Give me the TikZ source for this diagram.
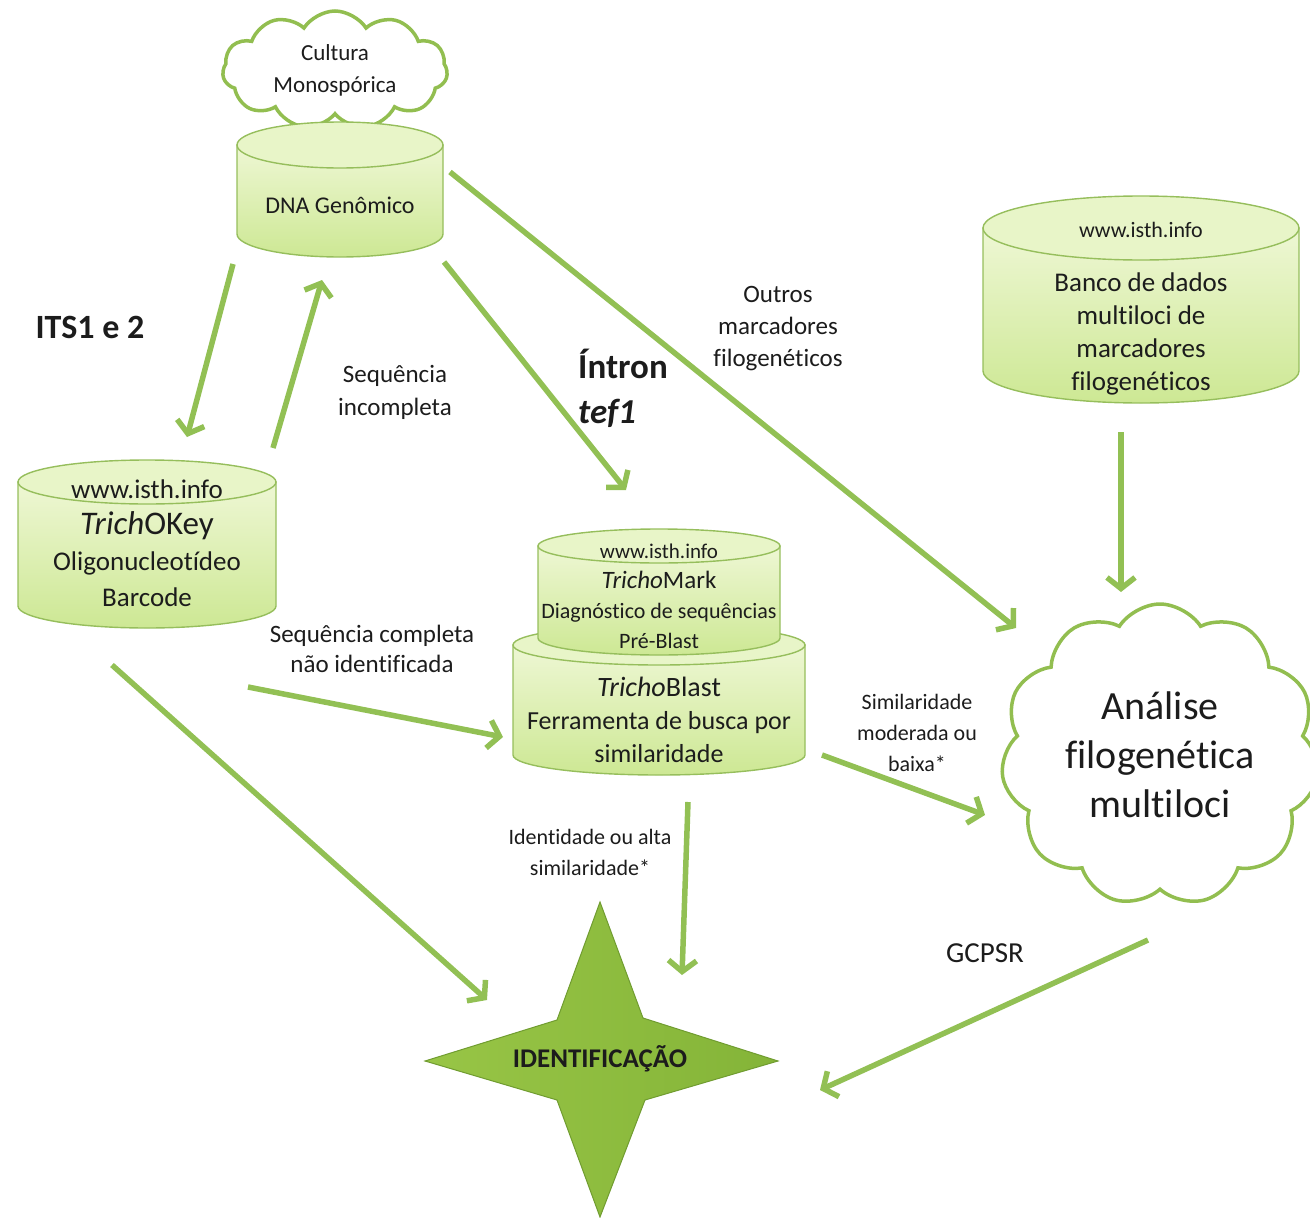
\documentclass[tikz,border=0pt]{standalone}
\usepackage{fontspec}
\setmainfont{Carlito}[Ligatures={NoCommon}]
\usetikzlibrary{arrows.meta,shapes.symbols}

\definecolor{edgegreen}{RGB}{150,190,92}
\definecolor{drumtop}{RGB}{238,247,212}
\definecolor{drumlow}{RGB}{205,232,148}
\definecolor{lidfill}{RGB}{232,245,200}
\definecolor{flowgreen}{RGB}{146,192,84}
\definecolor{cloudedge}{RGB}{146,190,80}
\definecolor{starlight}{RGB}{152,197,70}
\definecolor{stardark}{RGB}{132,180,56}
\definecolor{staredge}{RGB}{112,156,48}
\definecolor{inkgray}{RGB}{28,28,28}

\newcommand{\fs}[2]{\fontsize{#1}{#2}\selectfont}

% drum: #1 cx, #2 lid centre y, #3 rx, #4 ry, #5 floor centre y
\newcommand{\drum}[5]{%
\path[drumbody] (#1-#3,#2) -- (#1-#3,#5) arc[start angle=180,end angle=0,x radius=#3,y radius=#4] -- (#1+#3,#2) -- cycle;
\path[drumlid] (#1,#2) ellipse[x radius=#3,y radius=#4];
}

\tikzset{
  drumbody/.style={draw=edgegreen, line width=1.4pt, top color=drumtop, bottom color=drumlow},
  drumlid/.style={draw=edgegreen, line width=1.4pt, fill=lidfill},
  cloudy/.style={cloud, cloud puffs=11, cloud puff arc=115, cloud ignores aspect, draw=cloudedge, line width=3.5pt, fill=white, inner sep=0pt, align=center, text=inkgray},
  txt/.style={align=center, text=inkgray, inner sep=0pt},
  lbl/.style={align=center, text=inkgray, inner sep=0pt},
  flow/.style={line width=5.5pt, draw=flowgreen, -{Straight Barb[length=11pt, width=28pt]}},
  starbody/.style={left color=starlight, right color=stardark, draw=staredge, line width=1pt}
}

\begin{document}
\begin{tikzpicture}[x=1pt, y=-1pt]
\useasboundingbox (0,0) rectangle (1310,1218);

% clouds
\node[cloudy, minimum width=225pt, minimum height=118pt, font=\fs{23}{32}] (culture) at (335,70) {Cultura\\Monospórica};
\node[cloudy, minimum width=318pt, minimum height=302pt, font=\fs{40}{49}] (analise) at (1160,755) {Análise\\filogenética\\multiloci};

% cylinders
\drum{340}{145}{103}{23}{234}
\drum{147}{482}{129}{22}{606}
\drum{659}{645}{146}{20}{755}
\drum{659}{546}{121}{17}{638}
\drum{1141}{228}{158}{32}{371}

\node[txt, font=\fs{24}{30}] (dna) at (340,205) {DNA Genômico};
\node[txt, font=\fs{27}{36}] (okey) at (147,543) {www.isth.info\\{\fs{33}{36}\textit{Trich}OKey}\\Oligonucleotídeo\\Barcode};
\node[txt, font=\fs{22}{30}] (mark) at (659,596) {{\fs{21}{30}www.isth.info}\\{\fs{25}{30}\textit{Tricho}Mark}\\Diagnóstico de sequências\\Pré-Blast};
\node[txt, font=\fs{26}{33}] (blast) at (659,720) {{\fs{28}{33}\textit{Tricho}Blast}\\Ferramenta de busca por\\similaridade};
\node[txt, font=\fs{22}{28}] (bankurl) at (1141,230) {www.isth.info};
\node[txt, font=\fs{27}{33}] (bank) at (1141,334) {Banco de dados\\multiloci de\\marcadores\\filogenéticos};

% star
\path[starbody] (600,902) -- (643,1018) -- (778,1061) -- (645,1100) -- (600,1217) -- (557,1100) -- (425,1061) -- (557,1020) -- cycle;
\node[txt, font=\bfseries\fs{27}{32}] (ident) at (600,1059) {IDENTIFICAÇÃO};

% labels
\node[lbl, font=\bfseries\fs{34}{40}] (its) at (90,327) {ITS1 e 2};
\node[lbl, font=\fs{25}{33}] (incompleta) at (395,392) {Sequência\\incompleta};
\node[lbl, font=\bfseries\fs{35}{45}, align=left, anchor=west] (intron) at (578,388) {Íntron\\\textit{tef1}};
\node[lbl, font=\fs{25}{32}] (outros) at (778,329) {Outros\\marcadores\\filogenéticos};
\node[lbl, font=\fs{25}{30}] (completa) at (372,649) {Sequência completa\\não identificada};
\node[lbl, font=\fs{22}{31}] (moderada) at (917,733) {Similaridade\\moderada ou\\baixa*};
\node[lbl, font=\fs{22}{31}] (identidade) at (590,852) {Identidade ou alta\\similaridade*};
\node[lbl, font=\fs{29}{34}] (gcpsr) at (985,953) {GCPSR};

% arrow ends
\coordinate (dnaL) at (233,264);
\coordinate (okeyT) at (187,437);
\coordinate (okeyTR) at (273,448);
\coordinate (dnaB) at (322,280);
\coordinate (dnaBR) at (444,262);
\coordinate (markT) at (626,490);
\coordinate (dnaR) at (450,172);
\coordinate (anaTL) at (1016,628);
\coordinate (bankB) at (1121,432);
\coordinate (anaT) at (1121,592);
\coordinate (okeyBR) at (248,687);
\coordinate (blastL) at (503,737);
\coordinate (blastR) at (822,755);
\coordinate (anaL) at (985,815);
\coordinate (blastB) at (688,802);
\coordinate (identT) at (682,975);
\coordinate (okeyB) at (112,665);
\coordinate (identL) at (487,1000);
\coordinate (anaB) at (1148,940);
\coordinate (identR) at (820,1090);

\draw[flow] (dnaL) -- (okeyT);
\draw[flow] (okeyTR) -- (dnaB);
\draw[flow] (dnaBR) -- (markT);
\draw[flow] (dnaR) -- (anaTL);
\draw[flow] (bankB) -- (anaT);
\draw[flow] (okeyBR) -- (blastL);
\draw[flow] (blastR) -- (anaL);
\draw[flow] (blastB) -- (identT);
\draw[flow] (okeyB) -- (identL);
\draw[flow] (anaB) -- (identR);
\end{tikzpicture}
\end{document}
